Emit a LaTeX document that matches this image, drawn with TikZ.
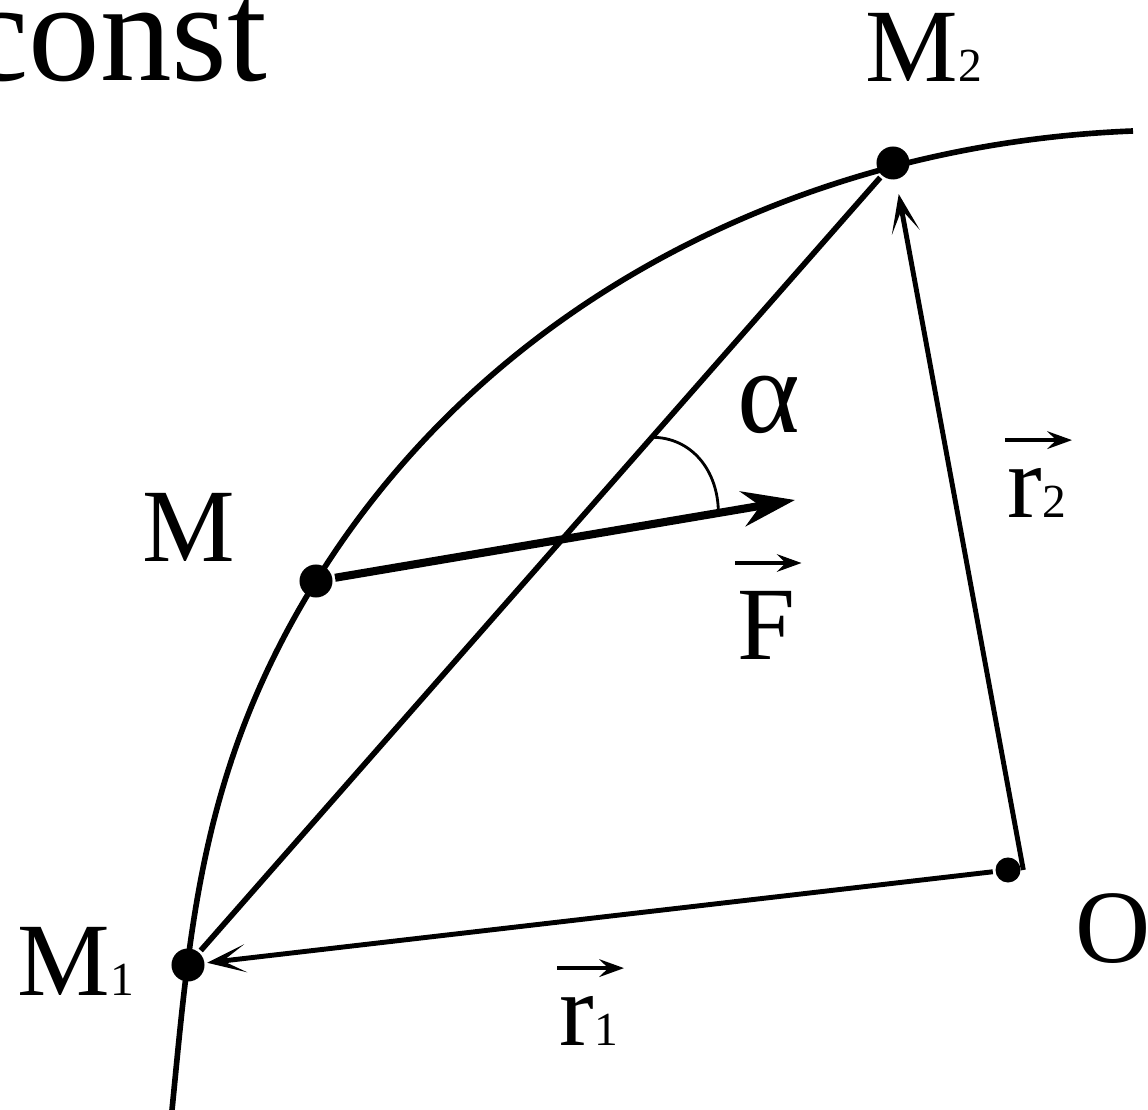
\documentclass[tikz,border=0pt]{standalone}
\usepackage{fontspec}
\setmainfont{Liberation Serif}
\usetikzlibrary{arrows.meta,calc}
\newcommand\lblsize{\fontsize{29.6}{32}\selectfont}
\newcommand\idx[1]{{\fontsize{13.5}{14}\selectfont #1}}

\begin{document}
\begin{tikzpicture}[x=0.01cm,y=-0.01cm,line width=1.6pt,
    massdot/.style={circle,fill,inner sep=0pt,minimum size=0.33cm},
    origindot/.style={circle,fill,inner sep=0pt,minimum size=0.25cm},
    vec/.style={-{Stealth[length=11pt,width=8pt,inset=6.5pt]},line width=1.4pt},
    force/.style={-{Stealth[length=15pt,width=10pt,inset=5pt]},line width=2.3pt},
    overarrow/.style={-{Stealth[length=7pt,width=5pt,inset=2.5pt]},line width=1.1pt},
    anglearc/.style={line width=0.8pt},
    lbl/.style={inner sep=0pt,anchor=base west,font=\lblsize}]
  \useasboundingbox (0,0) rectangle (1148,1110);
  % trajectory
  \draw (172,1110) .. controls (190,930) and (200,768) .. (316,581)
    .. controls (490,300) and (803,144) .. (1133,131);
  \foreach \n/\x/\y in {M1/188/965,M/316/581,M2/893/163}
    \node[massdot] (\n) at (\x,\y) {};
  \node[origindot] (O) at (1008,870) {};
  \coordinate (Ftip) at (795,500);
  \draw (M1) -- (M2);
  \draw[vec] (O) -- (M1);
  \draw[vec,shorten >=3.5pt] (O.east) -- (M2);
  \draw[force] (M) -- (Ftip);
  \draw[anglearc] ($(M1)!0.658!(M2)$) .. controls +(40,0) and +(0,-42) .. ($(M)!0.84!(Ftip)$);
  % labels
  \node[lbl,anchor=base east,font=\fontsize{40.7}{42}\selectfont] (const) at (270,81) {const};
  \node[lbl] (lM2) at (863,82) {M\idx{2}};
  \node[lbl] (lM) at (140,562) {M};
  \node[lbl] (lM1) at (15,995) {M\idx{1}};
  \node[lbl] (lO) at (1073,963) {O};
  \node[lbl,font=\fontsize{34}{36}\selectfont] (lalpha) at (735,433) {α};
  \node[lbl] (lF) at (735,660) {F};
  \node[lbl] (lr2) at (1005,518) {r\idx{2}};
  \node[lbl] (lr1) at (557,1046) {r\idx{1}};
  \foreach \l in {lF,lr2,lr1}
    \draw[overarrow] ([yshift=0.26cm]\l.north west) -- ([xshift=0.03cm,yshift=0.26cm]\l.north east);
\end{tikzpicture}
\end{document}
